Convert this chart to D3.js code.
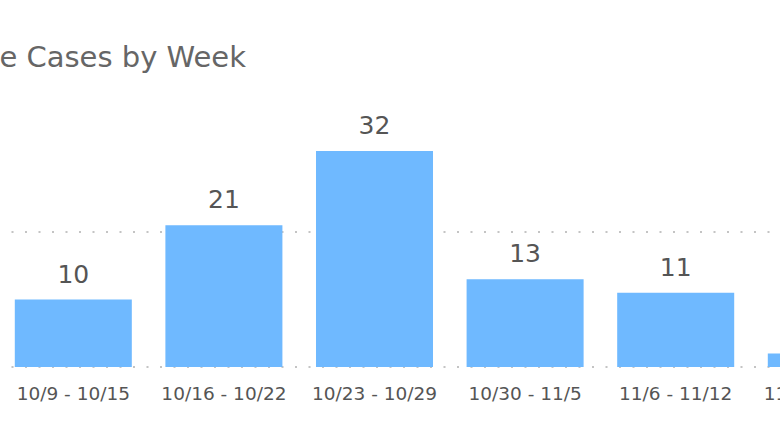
<!DOCTYPE html>
<html>
<head>
<meta charset="utf-8">
<script src="https://cdn.jsdelivr.net/npm/d3@7"></script>
<style>
  html, body { margin: 0; padding: 0; background: #fff; overflow: hidden; }
  svg { display: block; }
  .t { font-family: "DejaVu Sans", sans-serif; }
</style>
</head>
<body>
<svg id="chart" width="780" height="439"></svg>
<script>
const title = "Positive Cases by Week";
const categories = ["10/9 - 10/15", "10/16 - 10/22", "10/23 - 10/29", "10/30 - 11/5", "11/6 - 11/12", "11/13 - 11/19"];
const values = [10, 21, 32, 13, 11, 2];
const gridTicks = [0, 20];

const svg = d3.select("#chart");
const W = 780, H = 439;
const baseY = 367;

const x = d3.scaleBand()
  .domain(categories)
  .range([-2, 901.6])
  .paddingInner(0.223)
  .paddingOuter(0.1115);

const y = d3.scaleLinear()
  .domain([0, 20])
  .range([baseY, 232]);

// gridlines (dotted)
svg.append("g").selectAll("line")
  .data(gridTicks)
  .join("line")
  .attr("x1", 11.5)
  .attr("x2", W)
  .attr("y1", d => y(d))
  .attr("y2", d => y(d))
  .attr("stroke", "#c4c4c4")
  .attr("stroke-width", 2)
  .attr("stroke-dasharray", "2 11.5");

// bars
svg.append("g").selectAll("rect")
  .data(values)
  .join("rect")
  .attr("x", (d, i) => x(categories[i]))
  .attr("y", d => y(d))
  .attr("width", x.bandwidth())
  .attr("height", d => y(0) - y(d))
  .attr("fill", "#6fb9ff");

// value labels
svg.append("g").selectAll("text")
  .data(values)
  .join("text")
  .attr("class", "t")
  .attr("x", (d, i) => x(categories[i]) + x.bandwidth() / 2)
  .attr("y", d => y(d) - 17)
  .attr("text-anchor", "middle")
  .attr("font-size", 25)
  .attr("fill", "#555")
  .text(d => d);

// x axis labels
const xAxis = d3.axisBottom(x).tickSize(0).tickPadding(0);
const xg = svg.append("g")
  .attr("transform", `translate(0, ${baseY})`)
  .call(xAxis);
xg.select(".domain").remove();
xg.selectAll("text")
  .attr("class", "t")
  .attr("dy", null)
  .attr("y", 33)
  .attr("font-size", 18.5)
  .attr("font-family", "DejaVu Sans, sans-serif")
  .attr("fill", "#555");

// title
svg.append("text")
  .attr("class", "t")
  .attr("x", 246)
  .attr("y", 67)
  .attr("text-anchor", "end")
  .attr("font-size", 29)
  .attr("fill", "#666")
  .text(title);
</script>
</body>
</html>
